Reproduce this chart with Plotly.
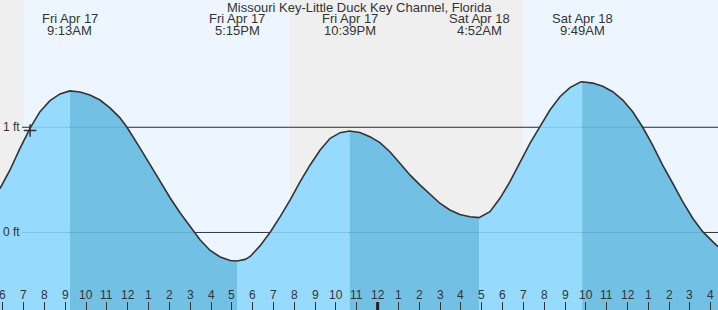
import plotly.graph_objects as go

# hours since Fri Apr 17 00:00, tide height in ft
times = [5.866, 6.346, 6.826, 7.306, 7.786, 8.267, 8.747, 9.22, 9.707, 10.187, 10.668, 11.148,
         11.628, 11.964, 12.60, 13.08, 13.56, 14.04, 14.52, 15.00, 15.48, 15.96, 16.44, 16.92,
         17.25, 17.64, 17.88, 18.36, 18.84, 19.32, 19.80, 20.28, 20.76, 21.24, 21.72, 22.20, 22.65,
         23.15, 23.63, 24.11, 24.59, 25.07, 25.55, 26.03, 26.51, 26.99, 27.47, 27.95, 28.435, 28.87,
         29.395, 29.875, 30.355, 30.835, 31.315, 31.795, 32.275, 32.755, 33.235, 33.715, 33.82,
         34.33, 34.81, 35.29, 35.77, 36.25, 36.73, 37.20, 37.68, 38.17, 38.65, 39.13, 39.61, 40.09,
         40.345]
heights = [0.418, 0.594, 0.799, 0.990, 1.148, 1.253, 1.317, 1.346, 1.336, 1.307, 1.259, 1.185,
           1.090, 1.000, 0.800, 0.638, 0.478, 0.328, 0.185, 0.062, -0.071, -0.171, -0.233, -0.266,
           -0.271, -0.256, -0.228, -0.125, 0.002, 0.150, 0.309, 0.483, 0.642, 0.784, 0.895, 0.949,
           0.965, 0.950, 0.911, 0.854, 0.768, 0.658, 0.547, 0.452, 0.363, 0.278, 0.214, 0.170, 0.150,
           0.141, 0.198, 0.325, 0.483, 0.668, 0.848, 1.006, 1.164, 1.291, 1.377, 1.428, 1.433, 1.420,
           1.390, 1.338, 1.259, 1.148, 1.000, 0.832, 0.642, 0.468, 0.293, 0.135, 0.008, -0.087,
           -0.135]

ext_times = [9.22, 17.25, 22.65, 28.87, 33.82]
ext_days = ["Fri Apr 17", "Fri Apr 17", "Fri Apr 17", "Sat Apr 18", "Sat Apr 18"]
ext_labels = ["9:13AM", "5:15PM", "10:39PM", "4:52AM", "9:49AM"]

now_time = [7.31]
now_height = [0.97]

day_periods = [(7.02, 19.79), (30.98, 41.0)]

tick_hours = list(range(6, 41))
tick_labels = ["6", "7", "8", "9", "10", "11", "12", "1", "2", "3", "4", "5", "6", "7", "8", "9",
               "10", "11", "12", "1", "2", "3", "4", "5", "6", "7", "8", "9", "10", "11", "12",
               "1", "2", "3", "4"]

ft_levels = [0, 1]
ft_labels = ["0 ft", "1 ft"]

title = "Missouri Key-Little Duck Key Channel, Florida"

X_RANGE = [5.866, 40.345]
Y_RANGE = [-0.737, 2.21]
NIGHT = "#EFEFEF"
DAY = "#EDF6FF"
RISE = "#96DBFE"
FALL = "#72C1E5"
TXT = "#333333"
FONT = "Liberation Sans, Arial, sans-serif"

fig = go.Figure()

shapes = []
for a, b in day_periods:
    shapes.append(dict(type="rect", xref="x", yref="paper", x0=a, x1=b, y0=0, y1=1,
                       fillcolor=DAY, line_width=0, layer="below"))
for lv in ft_levels:
    shapes.append(dict(type="line", xref="paper", yref="y", x0=22 / 718, x1=1, y0=lv, y1=lv,
                       line=dict(color="#333333", width=1), layer="below"))
    shapes.append(dict(type="line", xref="paper", yref="y", x0=22 / 718, x1=1, y0=lv, y1=lv,
                       line=dict(color="rgba(40,90,130,0.18)", width=1), layer="above"))
# thicker midnight tick
shapes.append(dict(type="line", xref="x", yref="paper", x0=24, x1=24, y0=0, y1=8 / 310,
                   line=dict(color="#222222", width=3), layer="above"))

# segment fills between extremes
bounds = [times[0]] + ext_times + [times[-1]]
base = Y_RANGE[0] - 0.2
for i in range(len(bounds) - 1):
    b0, b1 = bounds[i], bounds[i + 1]
    seg = [(t, h) for t, h in zip(times, heights) if b0 - 1e-9 <= t <= b1 + 1e-9]
    xs = [p[0] for p in seg] + [b1, b0]
    ys = [p[1] for p in seg] + [base, base]
    color = RISE if seg[-1][1] > seg[0][1] else FALL
    fig.add_trace(go.Scatter(x=xs, y=ys, fill="toself", fillcolor=color, mode="none",
                             hoverinfo="skip", showlegend=False))

fig.add_trace(go.Scatter(x=times, y=heights, mode="lines",
                         line=dict(color="#333333", width=1.6),
                         hoverinfo="skip", showlegend=False))

fig.add_trace(go.Scatter(x=now_time, y=now_height, mode="markers",
                         marker=dict(symbol="cross-thin", size=9,
                                     line=dict(color="#333333", width=1.5)),
                         hoverinfo="skip", showlegend=False))

annotations = [dict(text=title, xref="paper", yref="paper", x=0.5, y=1 - 8 / 310,
                    xanchor="center", yanchor="middle", showarrow=False,
                    font=dict(size=13, color=TXT, family=FONT))]
for t, d, l in zip(ext_times, ext_days, ext_labels):
    annotations.append(dict(text=d, xref="x", yref="paper", x=t, y=1 - 19 / 310,
                            xanchor="center", yanchor="middle", showarrow=False,
                            font=dict(size=13, color=TXT, family=FONT)))
    annotations.append(dict(text=l, xref="x", yref="paper", x=t, y=1 - 31 / 310,
                            xanchor="center", yanchor="middle", showarrow=False,
                            font=dict(size=13, color=TXT, family=FONT)))
for h, l in zip(tick_hours, tick_labels):
    annotations.append(dict(text=l, xref="x", yref="paper", x=h, y=(310 - 295) / 310,
                            xanchor="center", yanchor="middle", showarrow=False,
                            font=dict(size=12, color=TXT, family=FONT)))
for lv, l in zip(ft_levels, ft_labels):
    annotations.append(dict(text=l, xref="paper", yref="y", x=1 / 718, y=lv,
                            xanchor="left", yanchor="middle", showarrow=False,
                            font=dict(size=12, color=TXT, family=FONT)))

fig.update_layout(
    width=718, height=310, autosize=False,
    margin=dict(l=0, r=0, t=0, b=0, pad=0),
    paper_bgcolor=NIGHT, plot_bgcolor=NIGHT,
    shapes=shapes, annotations=annotations,
    xaxis=dict(range=X_RANGE, showgrid=False, zeroline=False, showline=False,
               tickvals=tick_hours, showticklabels=False, ticks="inside", ticklen=8,
               tickcolor="#333333", tickwidth=1, fixedrange=True),
    yaxis=dict(range=Y_RANGE, showgrid=False, zeroline=False, showline=False,
               showticklabels=False, ticks="", fixedrange=True),
    showlegend=False,
)

fig.write_html("out.html")
